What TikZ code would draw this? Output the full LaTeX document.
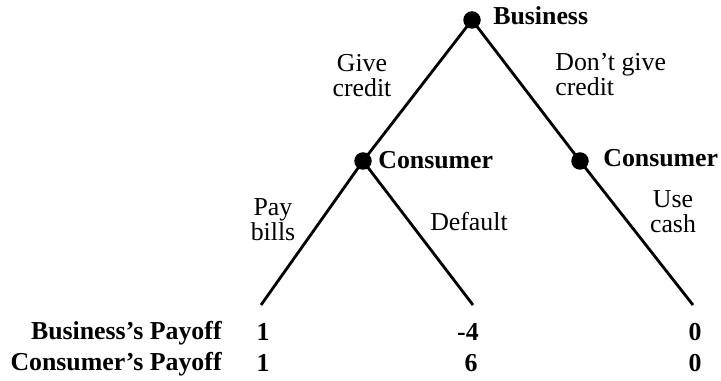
\documentclass[tikz,border=0pt]{standalone}
\usepackage{fontspec}
\setmainfont{Liberation Serif}
\usepackage{tikz}

\tikzset{
  dot/.style={circle, fill=black, inner sep=0pt, minimum size=0.35cm},
  player/.style={font=\bfseries\fontsize{14.7}{13}\selectfont, inner sep=0pt},
  move/.style={font=\fontsize{14.7}{14.2}\selectfont, align=center, inner sep=0pt},
  payoff/.style={font=\bfseries\fontsize{14.7}{13}\selectfont, inner sep=0pt},
  branch/.style={line width=1.6pt}
}

\begin{document}
\begin{tikzpicture}[x=0.02cm, y=-0.02cm]
        \useasboundingbox (0,0) rectangle (721,381);
        % Decision nodes
        \node[dot] (bus) at (472,20) {};
        \node[dot] (conl) at (363,161) {};
        \node[dot] (conr) at (580,161) {};
        % End points
        \coordinate (paid) at (261,305);
        \coordinate (dflt) at (473,305);
        \coordinate (cash) at (693,305);
        % Branches
        \draw[branch] (bus.center) -- (conl.center);
        \draw[branch] (bus.center) -- (conr.center);
        \draw[branch] (conl.center) -- (paid);
        \draw[branch] (conl.center) -- (dflt);
        \draw[branch] (conr.center) -- (cash);
        % Who moves
        \node[player, anchor=west] (lbus) at (493,16) {Business};
        \node[player, anchor=west] (lconl) at (378,160) {Consumer};
        \node[player, anchor=west] (lconr) at (603,158) {Consumer};
        % Labels on the branches
        \node[move] (give) at (362,76) {Give\\credit};
        \node[move, align=left, anchor=west] (nogive) at (555,75) {Don't give\\credit};
        \node[move] (pay) at (273,220) {Pay\\bills};
        \node[move] (default) at (469,222) {Default};
        \node[move] (use) at (673,212) {Use\\cash};
        % Payoffs
        \node[payoff, anchor=east] (bpay) at (222,333) {Business's Payoff};
        \node[payoff, anchor=east] (cpay) at (222,364) {Consumer's Payoff};
        \node[payoff] (b1) at (263,332) {1};
        \node[payoff] (c1) at (263,363) {1};
        \node[payoff] (b2) at (468,332) {-4};
        \node[payoff] (c2) at (471,363) {6};
        \node[payoff] (b3) at (695,332) {0};
        \node[payoff] (c3) at (695,363) {0};
    \end{tikzpicture}
\end{document}
